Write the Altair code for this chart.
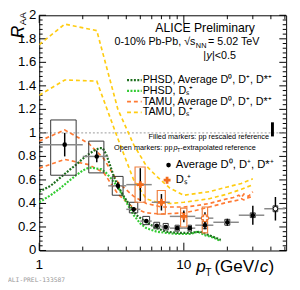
import altair as alt
import pandas as pd

FONT = "Liberation Sans"

# ---------------- data ----------------
# Average D0, D+, D*+
avg_pt = [1.5, 2.5, 3.5, 4.5, 5.5, 6.5, 7.5, 9, 11, 14, 20, 30, 43]
avg_bin_lo = [1, 2, 3, 4, 5, 6, 7, 8, 10, 12, 16, 24, 36]
avg_bin_hi = [2, 3, 4, 5, 6, 7, 8, 10, 12, 16, 24, 36, 50]
avg_raa = [0.90, 0.80, 0.55, 0.35, 0.25, 0.21, 0.20, 0.19, 0.19, 0.215, 0.24, 0.30, 0.355]
avg_stat = [0.10, 0.05, 0.03, 0.02, 0.015, 0.015, 0.015, 0.015, 0.015, 0.035, 0.03, 0.08, 0.10]
avg_sys_lo = [0.64, 0.66, 0.47, 0.32, 0.22, 0.185, 0.175, 0.165, 0.165, 0.185, 0.215, 0.28, 0.33]
avg_sys_hi = [1.11, 0.93, 0.63, 0.41, 0.29, 0.24, 0.23, 0.215, 0.215, 0.25, 0.265, 0.32, 0.38]
avg_box_hw = [0.3, 0.3, 0.3, 0.3, 0.3, 0.3, 0.3, 0.3, 0.3, 0.5, 0.8, 1.2, 1.6]
avg_open = [False] * 12 + [True]

# D_s+
ds_pt = [5, 7, 10, 14]
ds_bin_lo = [4, 6, 8, 12]
ds_bin_hi = [6, 8, 12, 16]
ds_raa = [0.56, 0.41, 0.29, 0.275]
ds_stat = [0.14, 0.07, 0.05, 0.05]
ds_sys_lo = [0.41, 0.31, 0.2, 0.15]
ds_sys_hi = [0.71, 0.51, 0.36, 0.37]
ds_box_hw = [0.4, 0.45, 0.5, 0.6]
ds_open = [False, False, False, True]

# normalisation uncertainty
norm_pt = [41]
norm_lo = [0.97]
norm_hi = [1.09]

# PHSD models
phsd_avg_pt = [1.0, 1.2, 1.4, 1.6, 1.8, 2.0, 2.2, 2.4, 2.6, 2.75, 2.9, 3.1, 3.3, 3.5, 3.8, 4.2,
               4.7, 5.5, 6.5, 7.5, 9, 11, 13, 15, 18]
phsd_avg_r = [0.50, 0.55, 0.62, 0.68, 0.73, 0.78, 0.82, 0.85, 0.87, 0.87, 0.82, 0.72, 0.62, 0.55,
              0.47, 0.39, 0.30, 0.24, 0.19, 0.16, 0.15, 0.15, 0.16, 0.13, 0.09]
phsd_ds_pt = [1.0, 1.2, 1.4, 1.6, 1.8, 2.0, 2.2, 2.4, 2.7, 2.9, 3.1, 3.5, 4.0, 4.5, 5.0, 5.5,
              6.5, 7.5, 9, 11, 12.5, 14, 16, 18]
phsd_ds_r = [0.41, 0.47, 0.53, 0.59, 0.64, 0.68, 0.705, 0.70, 0.69, 0.66, 0.62, 0.54, 0.41,
             0.30, 0.23, 0.19, 0.16, 0.15, 0.14, 0.14, 0.16, 0.13, 0.11, 0.08]

# TAMU models (upper / lower)
tamu_avg_pt = [1.0, 1.5, 2.2, 2.8, 3.5, 4.5, 5.5, 7, 10, 12, 15, 20, 22, 24, 25, 26, 28, 30]
tamu_avg_hi = [0.93, 1.025, 0.91, 0.78, 0.58, 0.46, 0.40, 0.37, 0.37, 0.38, 0.40, 0.44, 0.45,
               0.47, 0.45, 0.48, 0.46, 0.50]
tamu_avg_lo = [0.70, 0.775, 0.73, 0.66, 0.48, 0.36, 0.32, 0.31, 0.32, 0.34, 0.37, 0.41, 0.42,
               0.43, 0.44, 0.43, 0.45, 0.46]
tamu_ds_pt = [1.0, 1.5, 2.5, 3.5, 4.5, 5.5, 6.5, 8, 10, 15, 20, 25, 30]
tamu_ds_hi = [1.75, 1.925, 1.87, 1.20, 0.90, 0.72, 0.63, 0.53, 0.47, 0.50, 0.54, 0.57, 0.61]
tamu_ds_lo = [1.32, 1.45, 1.44, 0.95, 0.60, 0.44, 0.41, 0.40, 0.41, 0.44, 0.48, 0.52, 0.56]

# axis ticks and labels
y_major = [round(i * 0.2, 1) for i in range(11)]
y_labels = ["0", "0.2", "0.4", "0.6", "0.8", "1", "1.2", "1.4", "1.6", "1.8", "2"]
y_minor = [round(i * 0.04, 2) for i in range(51) if i % 5 != 0]
x_major = [1, 10]
x_labels = ["1", "10"]
x_minor = [2, 3, 4, 5, 6, 7, 8, 9, 20, 30, 40, 50]

# ---------------- colours ----------------
C_PHSD_AVG = "#1d6e1d"
C_PHSD_DS = "#33cc33"
C_TAMU_AVG = "#ff7a33"
C_TAMU_DS = "#ffcc11"
C_DS = "#f26b1d"
C_DS_BOX = "#ee8040"

W, H = 253, 241
X = alt.Scale(type="log", domain=[1, 51])
Y = alt.Scale(domain=[0, 2])


def xq(f):
    return alt.X(f, type="quantitative", scale=X, axis=None)


def yq(f):
    return alt.Y(f, type="quantitative", scale=Y, axis=None)


avg = pd.DataFrame({
    "pt": avg_pt, "raa": avg_raa,
    "blo": avg_bin_lo, "bhi": avg_bin_hi,
    "slo": [r - s for r, s in zip(avg_raa, avg_stat)],
    "shi": [r + s for r, s in zip(avg_raa, avg_stat)],
    "ylo": avg_sys_lo, "yhi": avg_sys_hi,
    "xlo": [p - w for p, w in zip(avg_pt, avg_box_hw)],
    "xhi": [p + w for p, w in zip(avg_pt, avg_box_hw)],
    "open": avg_open,
})
ds = pd.DataFrame({
    "pt": ds_pt, "raa": ds_raa,
    "blo": ds_bin_lo, "bhi": ds_bin_hi,
    "slo": [r - s for r, s in zip(ds_raa, ds_stat)],
    "shi": [r + s for r, s in zip(ds_raa, ds_stat)],
    "ylo": ds_sys_lo, "yhi": ds_sys_hi,
    "xlo": [p - w for p, w in zip(ds_pt, ds_box_hw)],
    "xhi": [p + w for p, w in zip(ds_pt, ds_box_hw)],
    "open": ds_open,
})

layers = []

# tick labels
layers.append(alt.Chart(pd.DataFrame({"v": y_major, "lab": y_labels})).mark_text(
    align="right", baseline="middle", fontSize=13.5, font=FONT, color="black").encode(
    y=yq("v"), x=alt.value(-3), text="lab:N"))
layers.append(alt.Chart(pd.DataFrame({"v": x_major, "lab": x_labels})).mark_text(
    align="center", baseline="middle", fontSize=14, font=FONT, color="black").encode(
    x=xq("v"), y=alt.value(H + 15), text="lab:N"))

# tick marks (inside, mirrored)
ym = pd.DataFrame({"v": y_major})
yn = pd.DataFrame({"v": y_minor})
xm = pd.DataFrame({"v": x_major})
xn = pd.DataFrame({"v": x_minor})
for df, L in ((ym, 7), (yn, 3.5)):
    layers.append(alt.Chart(df).mark_rule(color="black", strokeWidth=1).encode(
        y=yq("v"), x=alt.value(0), x2=alt.value(L)))
    layers.append(alt.Chart(df).mark_rule(color="black", strokeWidth=1).encode(
        y=yq("v"), x=alt.value(W - L), x2=alt.value(W)))
for df, L in ((xm, 8), (xn, 4)):
    layers.append(alt.Chart(df).mark_rule(color="black", strokeWidth=1).encode(
        x=xq("v"), y=alt.value(H - L), y2=alt.value(H)))
    layers.append(alt.Chart(df).mark_rule(color="black", strokeWidth=1).encode(
        x=xq("v"), y=alt.value(0), y2=alt.value(L)))

# R_AA = 1 reference line
layers.append(alt.Chart(pd.DataFrame({"v": [1]})).mark_rule(color="#999999", strokeDash=[2, 2],
                                                            strokeWidth=1).encode(y=yq("v")))


# model curves
def curve(pts, vals, color, dash, width):
    df = pd.DataFrame({"pt": pts, "r": vals, "o": list(range(len(pts)))})
    return alt.Chart(df).mark_line(color=color, strokeDash=dash, strokeWidth=width, clip=True).encode(
        x=xq("pt"), y=yq("r"), order="o:Q")


layers.append(curve(tamu_ds_pt, tamu_ds_hi, C_TAMU_DS, [4, 3], 1.7))
layers.append(curve(tamu_ds_pt, tamu_ds_lo, C_TAMU_DS, [4, 3], 1.7))
layers.append(curve(tamu_avg_pt, tamu_avg_hi, C_TAMU_AVG, [4, 3], 1.7))
layers.append(curve(tamu_avg_pt, tamu_avg_lo, C_TAMU_AVG, [4, 3], 1.7))
layers.append(curve(phsd_ds_pt, phsd_ds_r, C_PHSD_DS, [2, 1.5], 2.2))
layers.append(curve(phsd_avg_pt, phsd_avg_r, C_PHSD_AVG, [2, 1.5], 2.2))

# systematic boxes
layers.append(alt.Chart(avg).mark_rect(fillOpacity=0, stroke="#333333", strokeWidth=1).encode(
    x=xq("xlo"), x2="xhi", y=yq("ylo"), y2="yhi"))
layers.append(alt.Chart(ds).mark_rect(fillOpacity=0, stroke=C_DS_BOX, strokeWidth=1.2).encode(
    x=xq("xlo"), x2="xhi", y=yq("ylo"), y2="yhi"))

# error bars
layers.append(alt.Chart(avg).mark_rule(color="#888888", strokeWidth=1.5).encode(
    x=xq("blo"), x2="bhi", y=yq("raa")))
layers.append(alt.Chart(ds).mark_rule(color="#888888", strokeWidth=1.5).encode(
    x=xq("blo"), x2="bhi", y=yq("raa")))
layers.append(alt.Chart(avg).mark_rule(color="black", strokeWidth=1.5).encode(
    x=xq("pt"), y=yq("slo"), y2="shi"))
layers.append(alt.Chart(ds).mark_rule(color="black", strokeWidth=1.5).encode(
    x=xq("pt"), y=yq("slo"), y2="shi"))

# normalisation box
layers.append(alt.Chart(pd.DataFrame({"pt": norm_pt, "lo": norm_lo, "hi": norm_hi})).mark_rule(
    color="black", strokeWidth=3).encode(x=xq("pt"), y=yq("lo"), y2="hi"))

# markers
layers.append(alt.Chart(avg[~avg["open"]]).mark_point(shape="circle", filled=True, color="black",
                                                      size=22, opacity=1).encode(x=xq("pt"), y=yq("raa")))
layers.append(alt.Chart(avg[avg["open"]]).mark_point(shape="circle", filled=True, fill="white",
                                                     stroke="black", strokeWidth=1, size=22,
                                                     opacity=1).encode(x=xq("pt"), y=yq("raa")))
layers.append(alt.Chart(ds[~ds["open"]]).mark_point(shape="cross", filled=True, color=C_DS,
                                                    size=50, opacity=1).encode(x=xq("pt"), y=yq("raa")))
layers.append(alt.Chart(ds[ds["open"]]).mark_point(shape="cross", filled=True, fill="white",
                                                   stroke=C_DS, strokeWidth=1, size=50,
                                                   opacity=1).encode(x=xq("pt"), y=yq("raa")))


# ---------------- texts ----------------
def txt(s, x, y, size=11, align="left", baseline="middle", color="black", italic=False, angle=0,
        font=FONT):
    return alt.Chart(pd.DataFrame({"t": [s]})).mark_text(
        align=align, baseline=baseline, fontSize=size, font=font, color=color,
        fontStyle="italic" if italic else "normal", angle=angle).encode(
        x=alt.value(x), y=alt.value(y), text="t:N")


def lrule(x1, x2, y, color, dash, width):
    return alt.Chart(pd.DataFrame({"a": [0]})).mark_rule(color=color, strokeDash=dash,
                                                         strokeWidth=width).encode(
        x=alt.value(x1), x2=alt.value(x2), y=alt.value(y))


layers += [
    txt("ALICE Preliminary", 170, 13, size=12.5, align="center"),
    txt("0-10% Pb-Pb, \u221As", 160, 27.5, align="right"),
    txt("NN", 160.5, 31, size=7.5),
    txt("= 5.02 TeV", 173, 27.5),
    txt("|", 171, 42, align="right"),
    txt("y", 171.5, 42, italic=True),
    txt("|<0.5", 177, 42),
    lrule(90, 105, 66.5, C_PHSD_AVG, [2, 1.5], 2.2),
    lrule(90, 105, 77.5, C_PHSD_DS, [2, 1.5], 2.2),
    lrule(90, 105, 88.5, C_TAMU_AVG, [4, 3], 1.7),
    lrule(90, 105, 99.5, C_TAMU_DS, [4, 3], 1.7),
    txt("PHSD, Average D\u2070, D\u207A, D*\u207A", 106, 66.5),
    txt("PHSD, D\u209B\u207A", 106, 77.5),
    txt("TAMU, Average D\u2070, D\u207A, D*\u207A", 106, 88.5),
    txt("TAMU, D\u209B\u207A", 106, 99.5),
    txt("Filled markers: pp rescaled reference", 112, 124.5, size=7.5),
    txt("Open markers: pp", 136.5, 136, size=7.5, align="right"),
    txt("p", 137.5, 136, size=7.5, italic=True),
    txt("T", 141.5, 138, size=5),
    txt("-extrapolated reference", 144.5, 136, size=7.5),
    txt("Average D\u2070, D\u207A, D*\u207A", 140, 153.5, size=11.5),
    txt("D\u209B\u207A", 140, 169, size=11.5),
    txt("ALI-PREL-133587", -32, 271, size=6.5, color="#999999", font="DejaVu Sans Mono"),
    # axis titles
    txt("R", -16, 17, size=18, italic=True, align="center", baseline="alphabetic", angle=270),
    txt("AA", -14, 3.5, size=10, align="center", baseline="alphabetic", angle=270),
    txt("p", 161, 263, size=17.5, italic=True, baseline="alphabetic"),
    txt("T", 170, 267, size=10.5, baseline="alphabetic"),
    txt("(GeV/", 179.5, 263, size=17.5, baseline="alphabetic"),
    txt("c", 226, 263, size=17.5, italic=True, baseline="alphabetic"),
    txt(")", 235, 263, size=17.5, baseline="alphabetic"),
]

legend_pts = pd.DataFrame({"a": [0]})
layers.append(alt.Chart(legend_pts).mark_point(shape="circle", filled=True, color="black", size=22,
                                               opacity=1).encode(x=alt.value(132.5), y=alt.value(153.5)))
layers.append(alt.Chart(legend_pts).mark_point(shape="cross", filled=True, color=C_DS, size=50,
                                               opacity=1).encode(x=alt.value(131), y=alt.value(169)))

chart = alt.layer(*layers).properties(
    width=W, height=H,
    autosize=alt.AutoSizeParams(type="none"),
    padding={"left": 32, "top": 4, "right": 6, "bottom": 37},
).configure_view(stroke="black", strokeWidth=1)

chart.save("out.html", embed_options={"renderer": "svg", "actions": False})
